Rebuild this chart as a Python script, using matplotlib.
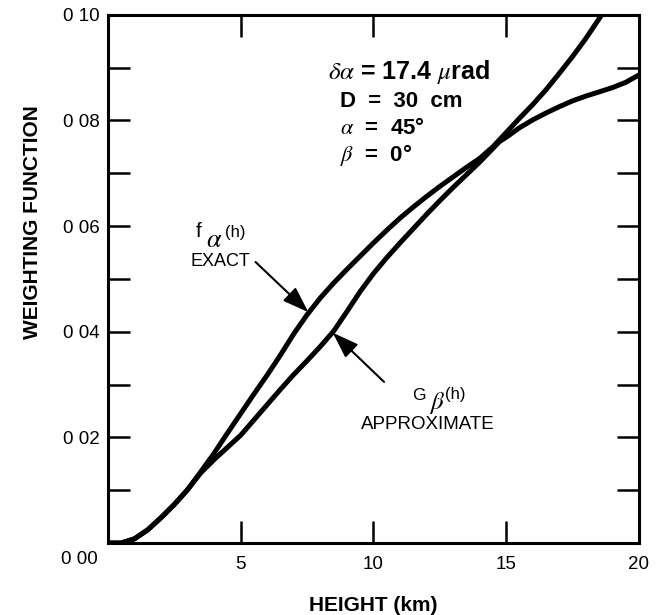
"""
Weighting function vs height: exact f_alpha(h) and approximate G_beta(h)
"""

import matplotlib
matplotlib.use("Agg")
import matplotlib.pyplot as plt
from matplotlib.ticker import MultipleLocator, FixedLocator

# Curves (height in km, weighting function)
h_exact = [0, 0.5, 1, 1.5, 2, 2.5, 3, 3.5, 4, 4.5, 5, 5.5, 6, 6.5, 7, 7.5,
           8, 8.5, 9, 9.5, 10, 10.5, 11, 11.5, 12, 12.5, 13, 13.5, 14, 14.5,
           15, 15.5, 16, 16.5, 17, 17.5, 18, 18.6]
w_exact = [0, 0, 0.0008, 0.0025, 0.0048, 0.0073, 0.0101, 0.0135, 0.0170,
           0.0208, 0.0245, 0.0282, 0.0318, 0.0356, 0.0396, 0.0432, 0.0464,
           0.0492, 0.0518, 0.0543, 0.0568, 0.0592, 0.0615, 0.0636, 0.0656,
           0.0675, 0.0693, 0.0711, 0.0728, 0.0750, 0.0777, 0.0804, 0.0830,
           0.0858, 0.0889, 0.0921, 0.0955, 0.1000]

h_approx = [0, 0.5, 1, 1.5, 2, 2.5, 3, 3.5, 4, 4.5, 5, 5.5, 6, 6.5, 7, 7.5,
            8, 8.5, 9, 9.5, 10, 10.5, 11, 11.5, 12, 12.5, 13, 13.5, 14, 14.5,
            14.75, 15, 15.5, 16, 16.5, 17, 17.5, 18, 18.5, 19, 19.5, 20]
w_approx = [0, 0, 0.0008, 0.0025, 0.0048, 0.0073, 0.0101, 0.0133, 0.0158,
            0.0181, 0.0204, 0.0233, 0.0262, 0.0291, 0.0319, 0.0345, 0.0372,
            0.0401, 0.0438, 0.0476, 0.0510, 0.0540, 0.0568, 0.0595, 0.0622,
            0.0648, 0.0673, 0.0697, 0.0721, 0.0747, 0.0760, 0.0768, 0.0786,
            0.0801, 0.0814, 0.0826, 0.0837, 0.0846, 0.0854, 0.0862, 0.0872,
            0.0886]

x_ticks = [5, 10, 15, 20]
y_ticks = [0.02, 0.04, 0.06, 0.08, 0.10]
y_ticklabels = ["0 02", "0 04", "0 06", "0 08", "0 10"]

plt.rcParams["font.family"] = ["Liberation Sans", "DejaVu Sans"]
plt.rcParams["mathtext.fontset"] = "stix"

fig = plt.figure(figsize=(6.58, 6.15), dpi=100)
ax = fig.add_axes([0.164, 0.117, 0.807, 0.859])

ax.plot(h_exact, w_exact, color="black", lw=3.6, solid_capstyle="round")
ax.plot(h_approx, w_approx, color="black", lw=3.6, solid_capstyle="round")

ax.set_xlim(0, 20)
ax.set_ylim(0, 0.10)

# ticks: inward on all four sides, like the original
ax.xaxis.set_major_locator(FixedLocator(x_ticks))
ax.set_xticklabels([str(t) for t in x_ticks])
ax.yaxis.set_major_locator(FixedLocator(y_ticks))
ax.yaxis.set_minor_locator(MultipleLocator(0.01))
ax.set_yticklabels(y_ticklabels)
ax.tick_params(which="both", direction="in", length=16, width=1.8,
               top=True, right=True, labelsize=13.5)
ax.tick_params(axis="x", pad=9)
ax.tick_params(axis="y", pad=6)
for sp in ax.spines.values():
    sp.set_linewidth(2.2)

# corner label for the origin
ax.text(-0.02, -0.032, "0 00", transform=ax.transAxes, ha="right",
        va="center", fontsize=13.5)

ax.set_xlabel("HEIGHT (km)", fontsize=15, fontweight="bold", labelpad=17)
ax.set_ylabel("WEIGHTING FUNCTION", fontsize=15, fontweight="bold")
ax.yaxis.set_label_coords(-0.125, 0.608)

# parameter block
ax.text(8.29, 0.0892, r"$\delta\alpha$ = 17.4 $\mu$rad", fontsize=18,
        fontweight="bold", ha="left", va="center")
ax.text(8.74, 0.0835, "D  =  30  cm", fontsize=16, fontweight="bold",
        ha="left", va="center")
ax.text(8.74, 0.0784, r"$\alpha$  =  45°", fontsize=16, fontweight="bold",
        ha="left", va="center")
ax.text(8.74, 0.0735, r"$\beta$  =  0°", fontsize=16, fontweight="bold",
        ha="left", va="center")

arrow = dict(arrowstyle="-|>,head_length=0.8,head_width=0.28",
             color="black", lw=1.5, mutation_scale=20, shrinkA=0, shrinkB=0)

# exact curve label
ax.text(3.4, 0.0590, "f", fontsize=15, ha="center", va="center")
ax.text(4.0, 0.0574, r"$\alpha$", fontsize=19, ha="center", va="center")
ax.text(4.8, 0.0588, "(h)", fontsize=12, ha="center", va="center")
ax.text(4.22, 0.0532, "EXACT", fontsize=13, ha="center", va="center")
ax.annotate("", xy=(7.55, 0.0437), xytext=(5.56, 0.0532), arrowprops=arrow)

# approximate curve label
ax.text(11.7, 0.0280, "G", fontsize=12.5, ha="center", va="center")
ax.text(12.4, 0.0266, r"$\beta$", fontsize=18, ha="center", va="center")
ax.text(13.1, 0.0281, "(h)", fontsize=12, ha="center", va="center")
ax.text(12.05, 0.0224, "APPROXIMATE", fontsize=13.5, ha="center",
        va="center")
ax.annotate("", xy=(8.47, 0.0398), xytext=(10.4, 0.0305), arrowprops=arrow)

fig.savefig("out.png", dpi=100)
